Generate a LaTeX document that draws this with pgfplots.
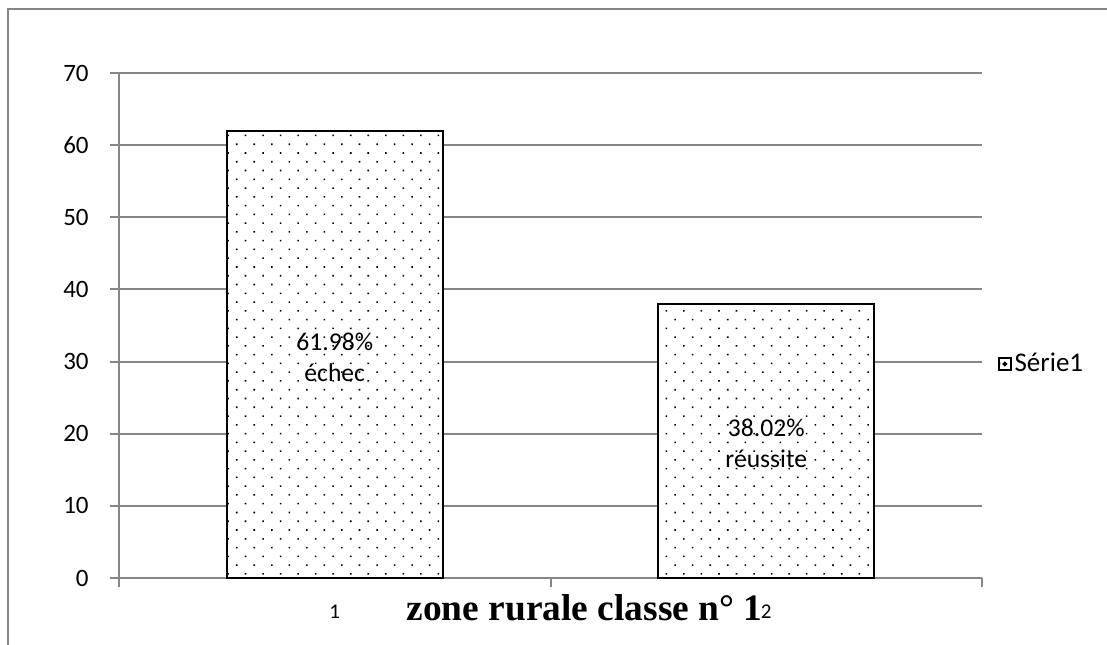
\documentclass[border=0pt]{standalone}
\usepackage{fontspec}
\setmainfont{Carlito}
\newfontfamily\timesfont{Liberation Serif}
\usepackage{pgfplots}
\pgfplotsset{compat=1.18}
\usetikzlibrary{patterns.meta}
\definecolor{axgray}{RGB}{134,134,134}
\tikzset{dotfill/.style={pattern={Dots[distance=6.2pt, radius=0.55pt, angle=45]}, pattern color=black}}
\newcommand{\ylab}{\fontsize{12.5}{15}\selectfont}
\newcommand{\xlab}{\fontsize{10.5}{13}\selectfont}
\begin{document}
\begin{tikzpicture}[x=1pt,y=1pt]
\useasboundingbox (0,0) rectangle (553.5,322);
\draw[axgray, line width=1pt] (4,-10) -- (4,317.5) -- (570,317.5);
\begin{axis}[
  at={(59.5pt,33pt)}, anchor=south west,
  scale only axis, width=431.5pt, height=252.5pt,
  xmin=0.5, xmax=2.5, ymin=0, ymax=70,
  axis lines=left,
  axis line style={-, axgray, line width=1pt},
  tick align=outside,
  major tick length=4.5pt,
  tick style={axgray, line width=1pt},
  ytick={0,10,...,70},
  /pgf/number format/assume math mode=true,
  ymajorgrids, grid style={axgray, line width=1pt},
  xtick={0.5,1.5,2.5}, xticklabels={},
  extra x ticks={1,2}, extra x tick labels={1,2},
  extra x tick style={grid=none, major tick length=0pt},
  yticklabel style={anchor=east, inner sep=0pt, xshift=-10.5pt, font=\ylab},
  xticklabel style={anchor=base, inner sep=0pt, yshift=-20pt, font=\xlab},
  ybar, bar width=0.5,
  legend style={at={(1.0185,0.4238)}, anchor=west, draw=none, fill=none, inner sep=0pt,
    font=\fontsize{13.5}{15}\selectfont, nodes={inner sep=1.5pt}},
]
\addplot[draw=black, line width=1pt, fill=white, postaction={dotfill},
  legend image code/.code={\draw[black, line width=0.6pt, fill=white] (0pt,-3pt) rectangle (6pt,3pt); \fill[black] (3pt,0pt) circle (0.55pt);}]
  coordinates {(1,61.98) (2,38.02)};
\addlegendentry{Série1}
\node[align=center, font=\fontsize{12.8}{15.5}\selectfont] at (axis cs:1,30.6) {61.98\%\\échec};
\node[align=center, font=\fontsize{12.8}{15.5}\selectfont] at (axis cs:2,18.7) {38.02\%\\réussite};
\end{axis}
\node[anchor=base, font=\timesfont\bfseries\fontsize{18.7}{22}\selectfont] at (292.25,12) {zone rurale classe n° 1};
\end{tikzpicture}
\end{document}
